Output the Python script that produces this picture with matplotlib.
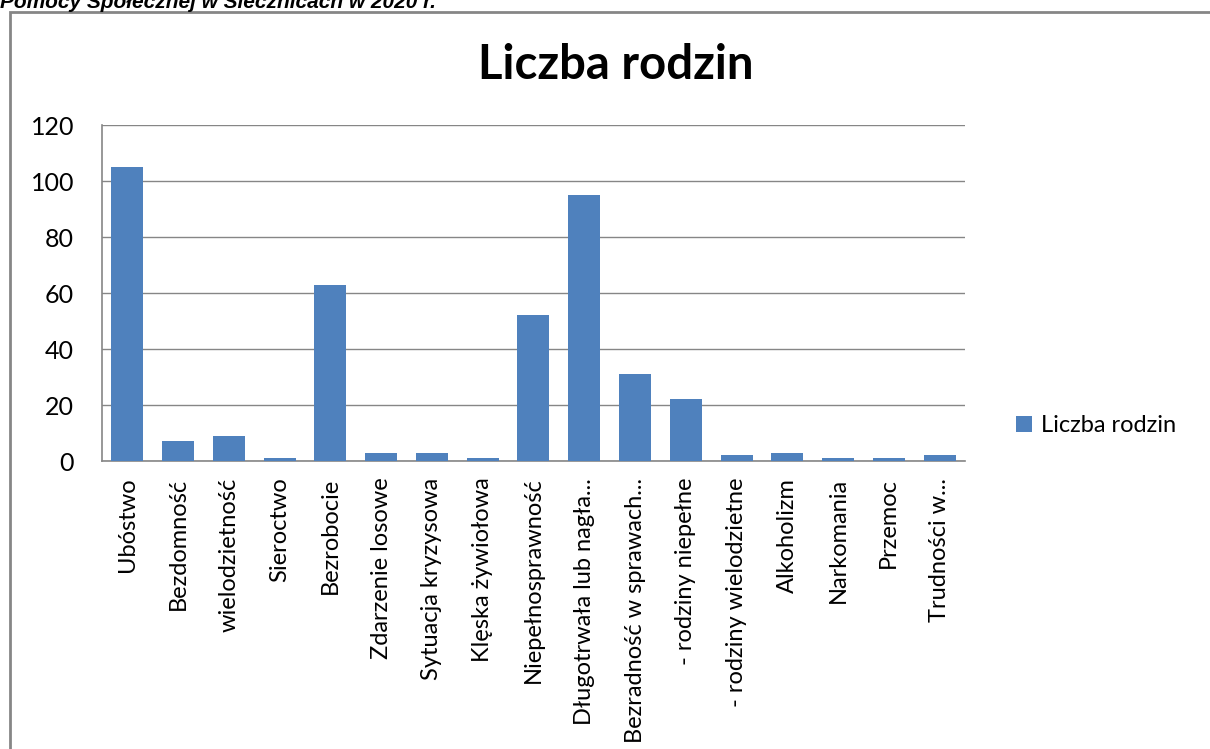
import matplotlib.pyplot as plt
import matplotlib.patches as patches
import numpy as np

plt.rcParams['font.family'] = ['Lato', 'DejaVu Sans']

kategorie = ['Ubóstwo', 'Bezdomność', 'wielodzietność', 'Sieroctwo', 'Bezrobocie',
             'Zdarzenie losowe', 'Sytuacja kryzysowa', 'Klęska żywiołowa',
             'Niepełnosprawność', 'Długotrwała lub nagła...', 'Bezradność w sprawach...',
             '- rodziny niepełne', '- rodziny wielodzietne', 'Alkoholizm', 'Narkomania',
             'Przemoc', 'Trudności w...']
liczba_rodzin = [105, 7, 9, 1, 63, 3, 3, 1, 52, 95, 31, 22, 2, 3, 1, 1, 2]
y_ticks = [0, 20, 40, 60, 80, 100, 120]

kolor = '#4f81bd'
szary = '#868686'

fig = plt.figure(figsize=(12.1, 7.49), dpi=100)
ax = fig.add_axes([0.0843, 0.3845, 0.7132, 0.4486])

x = np.arange(len(kategorie))
ax.bar(x, liczba_rodzin, width=0.63, color=kolor, label='Liczba rodzin', zorder=3)

ax.set_xlim(-0.5, len(kategorie) - 0.5)
ax.set_ylim(0, 120)
ax.set_yticks(y_ticks)
ax.set_yticklabels([str(v) for v in y_ticks], fontsize=18)
ax.set_xticks(x)
ax.set_xticklabels(kategorie, rotation=90, fontsize=17, va='top', ha='center')
ax.tick_params(axis='both', length=0)
ax.tick_params(axis='x', pad=12)
ax.tick_params(axis='y', pad=20)
ax.grid(axis='y', color=szary, linewidth=1, zorder=0)
for s in ['top', 'right']:
    ax.spines[s].set_visible(False)
for s in ['left', 'bottom']:
    ax.spines[s].set_color(szary)
    ax.spines[s].set_linewidth(1.2)

fig.text(0.509, 0.913, 'Liczba rodzin', fontsize=34, fontweight='bold',
         ha='center', va='center')

ax.legend(loc='center left', bbox_to_anchor=(1.035, 0.105), frameon=False,
          fontsize=17, handlelength=0.65, handleheight=0.65, handletextpad=0.4)

# ramka wykresu
fig.patches.append(patches.Rectangle((10 / 1210, -0.01), 1.0, 1 - 12 / 749 + 0.01,
                                     transform=fig.transFigure, fill=False,
                                     edgecolor=szary, linewidth=2, clip_on=False))

fig.text(0.0, 1 - 8 / 749, 'Pomocy Społecznej w Siecznicach w 2020 r.',
         fontsize=15, fontweight='bold', fontstyle='italic',
         family=['Liberation Sans', 'DejaVu Sans'], va='baseline', ha='left')

fig.savefig('out.png', dpi=100)
